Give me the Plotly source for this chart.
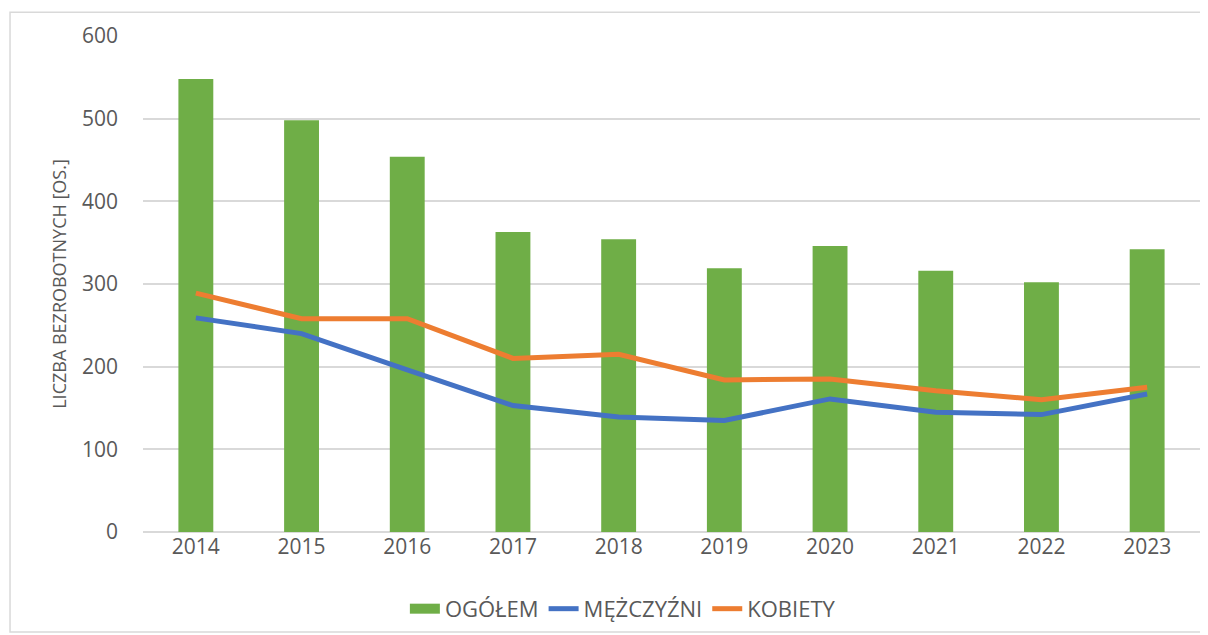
import plotly.graph_objects as go

years = ["2014", "2015", "2016", "2017", "2018", "2019", "2020", "2021", "2022", "2023"]
ogolem = [548, 498, 454, 363, 354, 319, 346, 316, 302, 342]
mezczyzni = [259, 240, 196, 153, 139, 135, 161, 145, 142, 167]
kobiety = [289, 258, 258, 210, 215, 184, 185, 171, 160, 175]

font_family = "Open Sans, Noto Sans, sans-serif"
grey_txt = "#595959"
green = "#6fae47"

fig = go.Figure()
fig.add_trace(go.Bar(x=years, y=ogolem, name="OGÓŁEM", showlegend=False,
                     marker=dict(color=green, line_width=0)))
# legend swatch for the bars (wide green block like in Excel)
fig.add_trace(go.Scatter(x=[None], y=[None], name="OGÓŁEM", mode="lines",
                         line=dict(color=green, width=10)))
fig.add_trace(go.Scatter(x=years, y=mezczyzni, name="MĘŻCZYŹNI", mode="lines",
                         line=dict(color="#4472C4", width=5)))
fig.add_trace(go.Scatter(x=years, y=kobiety, name="KOBIETY", mode="lines",
                         line=dict(color="#ED7D31", width=5)))

# outer frame of the chart
fig.add_shape(type="rect", xref="paper", yref="paper",
              x0=-0.1258, x1=1.0047, y0=-0.2016, y1=1.048,
              line=dict(color="#d9d9d9", width=1.5), layer="below")

# page body has an 8px margin, so the figure is a bit smaller than the window
fig.update_layout(
    width=1200, height=627,
    margin=dict(l=135, r=8, t=28, b=103, autoexpand=False),
    paper_bgcolor="white", plot_bgcolor="white",
    font=dict(family=font_family, color=grey_txt, size=21),
    bargap=0.67,
    showlegend=True,
    legend=dict(orientation="h", x=0.454, xanchor="center", y=-0.155, yanchor="middle",
                font=dict(size=22, color=grey_txt), traceorder="normal",
                bgcolor="rgba(0,0,0,0)", itemwidth=30),
)
fig.update_xaxes(showgrid=False, showline=False, ticks="", tickfont=dict(size=21))
fig.update_yaxes(range=[0, 600], dtick=100, showgrid=True, gridcolor="#d9d9d9",
                 gridwidth=1.5, zeroline=True, zerolinecolor="#d9d9d9", zerolinewidth=1.5,
                 ticks="", ticklabelstandoff=24, tickfont=dict(size=21),
                 title=dict(text="LICZBA BEZROBOTNYCH [OS.]",
                            font=dict(size=18, color=grey_txt), standoff=10))

fig.write_html("out.html")
